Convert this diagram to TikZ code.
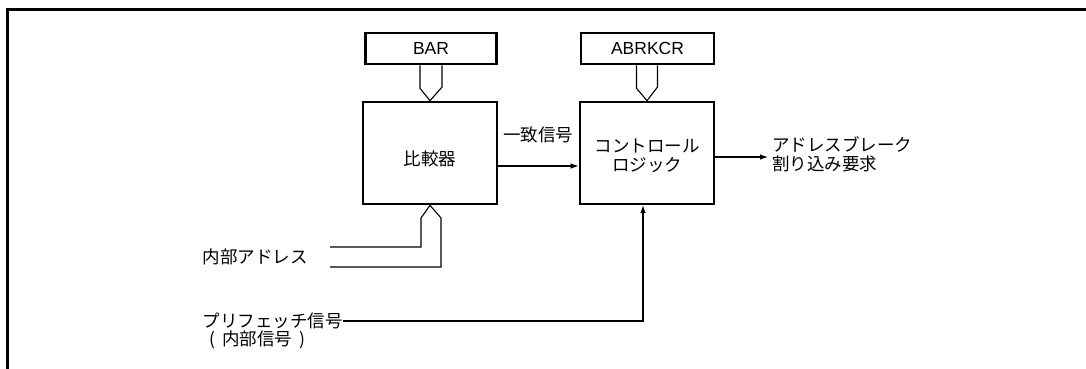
\documentclass[tikz,border=0pt]{standalone}
\usepackage{fontspec}
\setmainfont{Liberation Sans}
\newfontfamily\jp{Noto Sans CJK JP}
\usetikzlibrary{arrows.meta,calc}
\tikzset{
  blk/.style={draw, line width=2.6pt, inner sep=0pt},
  conn/.style={line width=1.1pt},
  arr/.style={conn, -{Latex[length=8pt,width=5.5pt]}},
  hollow/.style={line width=1.1pt, line join=miter},
  lbl/.style={inner sep=0pt, font=\jp\fontsize{17.5}{19.5}\selectfont},
  reg/.style={blk, minimum width=131pt, minimum height=31pt, font=\fontsize{17.5}{19}\selectfont},
  big/.style={blk, minimum width=134pt, minimum height=102pt}
}
\begin{document}
\begin{tikzpicture}[x=1pt,y=-1pt]
\useasboundingbox (0,0) rectangle (1086,368);
\draw[line width=3pt] (1090,9) -- (7,9) -- (7,372);
% registers
\node[reg] (bar) at (431,48.5) {BAR};
\node[reg, minimum width=133pt] (abrkcr) at (647.5,48.5) {ABRKCR};
% main blocks
\node[big] (cmp) at (430,153) {};
\node[big] (ctl) at (647,153) {};
\node[lbl] (cmpt) at (430,159) {比較器};
\node[lbl, align=center] (ctlt) at (647,156) {コントロール\\ロジック};
% hollow arrows from registers
\draw[hollow] ([xshift=-11pt]bar.south) -- ++(0,23) -- (cmp.north) -- ([xshift=11pt]bar.south |- 0,87) -- ([xshift=11pt]bar.south);
\draw[hollow] ([xshift=-11pt]abrkcr.south) -- ++(0,23) -- (ctl.north) -- ([xshift=10pt]abrkcr.south |- 0,87) -- ([xshift=10pt]abrkcr.south);
% internal address bus
\node[lbl, anchor=east] (ia) at (308,257) {内部アドレス};
\coordinate (ia1) at (330,247);
\coordinate (ia2) at (330,267);
\draw[hollow] (ia1) -- (421,247) -- (421,218) -- (cmp.south) -- (441,218) -- (441,267) -- (ia2);
% match signal
\draw[arr] (cmp.east |- 0,166) -- (ctl.west |- 0,166);
\node[lbl] (match) at (538,135) {一致信号};
% output
\coordinate (out) at (768,157);
\draw[arr] (ctl.east |- out) -- (out);
\node[lbl, anchor=west, align=left] (outl) at (772,154) {アドレスブレーク\\割り込み要求};
% prefetch
\node[lbl, anchor=east] (pf) at (343,321) {プリフェッチ信号};
\node[lbl] (pf2) at (257,340) {(\hspace{7pt}内部信号\hspace{7pt})};
\draw[arr] (pf.east) -- (643,321) -- (643,205);
\end{tikzpicture}
\end{document}
